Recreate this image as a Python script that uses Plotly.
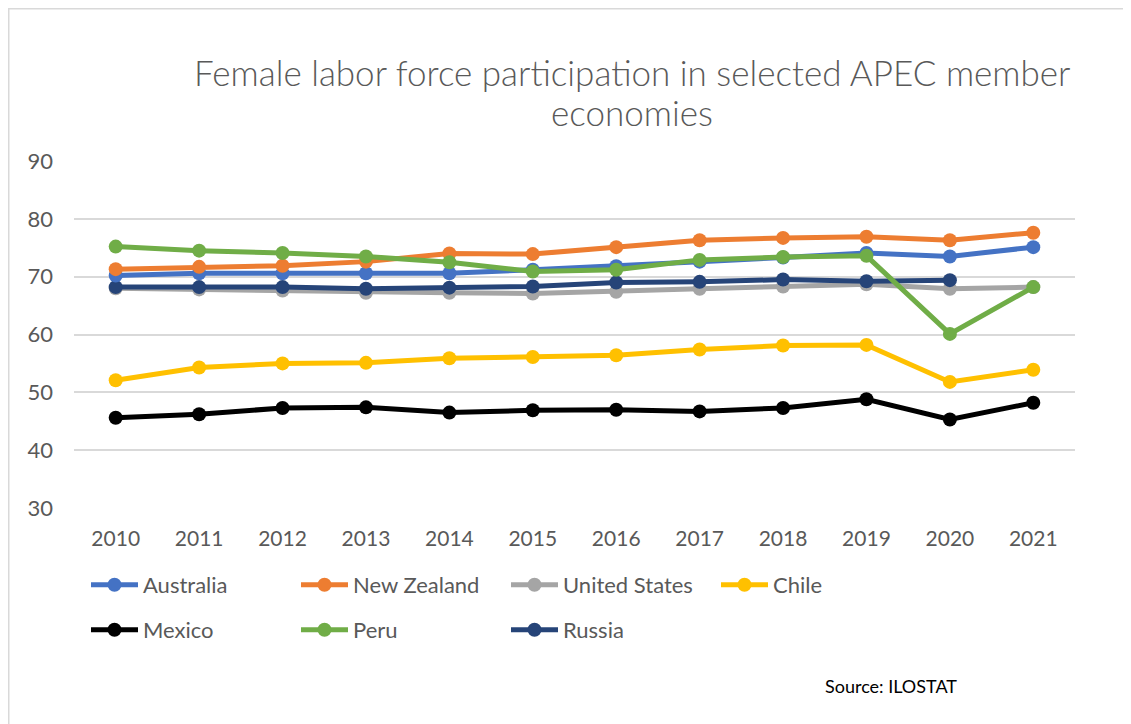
import plotly.graph_objects as go

years = ["2010", "2011", "2012", "2013", "2014", "2015", "2016", "2017", "2018", "2019", "2020", "2021"]
australia = [70.2, 70.6, 70.6, 70.6, 70.6, 71.2, 71.8, 72.6, 73.3, 74.1, 73.5, 75.1]
new_zealand = [71.3, 71.7, 71.9, 72.6, 74.0, 73.9, 75.1, 76.3, 76.7, 76.9, 76.3, 77.6]
united_states = [68.0, 67.8, 67.6, 67.2, 67.2, 67.1, 67.4, 67.9, 68.3, 68.7, 67.9, 68.2]
chile = [52.1, 54.3, 55.0, 55.1, 55.9, 56.1, 56.4, 57.4, 58.1, 58.2, 51.8, 53.9]
mexico = [45.6, 46.2, 47.3, 47.4, 46.5, 46.9, 47.0, 46.7, 47.3, 48.8, 45.3, 48.2]
peru = [75.2, 74.5, 74.1, 73.5, 72.5, 70.9, 71.2, 72.9, 73.4, 73.6, 60.1, 68.2]
russia = [68.2, 68.2, 68.2, 67.9, 68.1, 68.3, 69.0, 69.1, 69.5, 69.2, 69.4, None]

series = [
    ("Australia", australia, "#4472C4", "legend"),
    ("New Zealand", new_zealand, "#ED7D31", "legend"),
    ("United States", united_states, "#A5A5A5", "legend"),
    ("Chile", chile, "#FFC000", "legend"),
    ("Mexico", mexico, "#000000", "legend2"),
    ("Peru", peru, "#70AD47", "legend2"),
    ("Russia", russia, "#264478", "legend2"),
]

FONT = "Lato"
GRAY = "#595959"

fig = go.Figure()
order = ["United States", "Russia", "Australia", "New Zealand", "Peru", "Chile", "Mexico"]
lookup = {s[0]: s for s in series}
names = [s[0] for s in series]
for name in order:
    _, vals, color, leg = lookup[name]
    fig.add_trace(go.Scatter(
        x=years, y=vals, name=name, mode="lines+markers",
        line=dict(color=color, width=5),
        marker=dict(color=color, size=14),
        legend=leg,
        legendrank=names.index(name),
        connectgaps=False,
    ))

W, H = 1131, 724
SH = 8  # page offset of the figure inside the browser window
# target plot area in window pixels: x 74..1075, y 161..508
L = 74 - SH
T = 161 - SH
R = W - (1075 - SH)
B = H - (508 - SH)

def px_x(p):
    return (p - SH - L) / (W - L - R)

def px_y(p):
    return (H - B - (p - SH)) / (H - T - B)

legend_common = dict(
    orientation="h", xanchor="left", yanchor="middle",
    itemwidth=47, entrywidth=148, entrywidthmode="pixels",
    font=dict(size=22, color=GRAY), bgcolor="rgba(0,0,0,0)", traceorder="normal",
    itemclick=False,
)

fig.update_layout(
    width=W, height=H,
    margin=dict(l=L, r=R, t=T, b=B, autoexpand=False),
    paper_bgcolor="white", plot_bgcolor="white",
    font=dict(family=FONT, color=GRAY, size=21),
    xaxis=dict(
        type="category", range=[-0.5, 11.5], showgrid=False, showline=False,
        zeroline=False, ticks="", tickfont=dict(size=21, color=GRAY),
        ticklabelstandoff=16,
    ),
    yaxis=dict(
        range=[30, 90], dtick=10, showgrid=True, gridcolor="#D9D9D9", gridwidth=1.5,
        zeroline=False, showline=False, ticks="", tickfont=dict(size=22, color=GRAY),
        ticklabelstandoff=20,
    ),
    legend=dict(x=px_x(86), y=px_y(585), **legend_common),
    legend2=dict(x=px_x(86), y=px_y(630), **legend_common),
    showlegend=True,
)

title_lines = ["Female labor force participation in selected APEC member", "economies"]
title_y = [72, 112]
for txt, ty in zip(title_lines, title_y):
    fig.add_annotation(
        text=txt, x=px_x(632), xref="paper", xanchor="center",
        y=px_y(ty), yref="paper", yanchor="middle", showarrow=False,
        font=dict(family=FONT, size=35, color=GRAY, weight=300),
    )

fig.add_annotation(
    text="Source: ILOSTAT", x=px_x(823), xref="paper", xanchor="left",
    y=px_y(686), yref="paper", yanchor="middle", showarrow=False,
    font=dict(family=FONT, size=18, color="#000000"),
)

fig.add_shape(
    type="rect", xref="paper", yref="paper",
    x0=px_x(8.75), x1=px_x(1150), y0=px_y(760), y1=px_y(8.75),
    line=dict(color="#D9D9D9", width=1.5), fillcolor="rgba(0,0,0,0)", layer="below",
)

fig.write_html("out.html")
